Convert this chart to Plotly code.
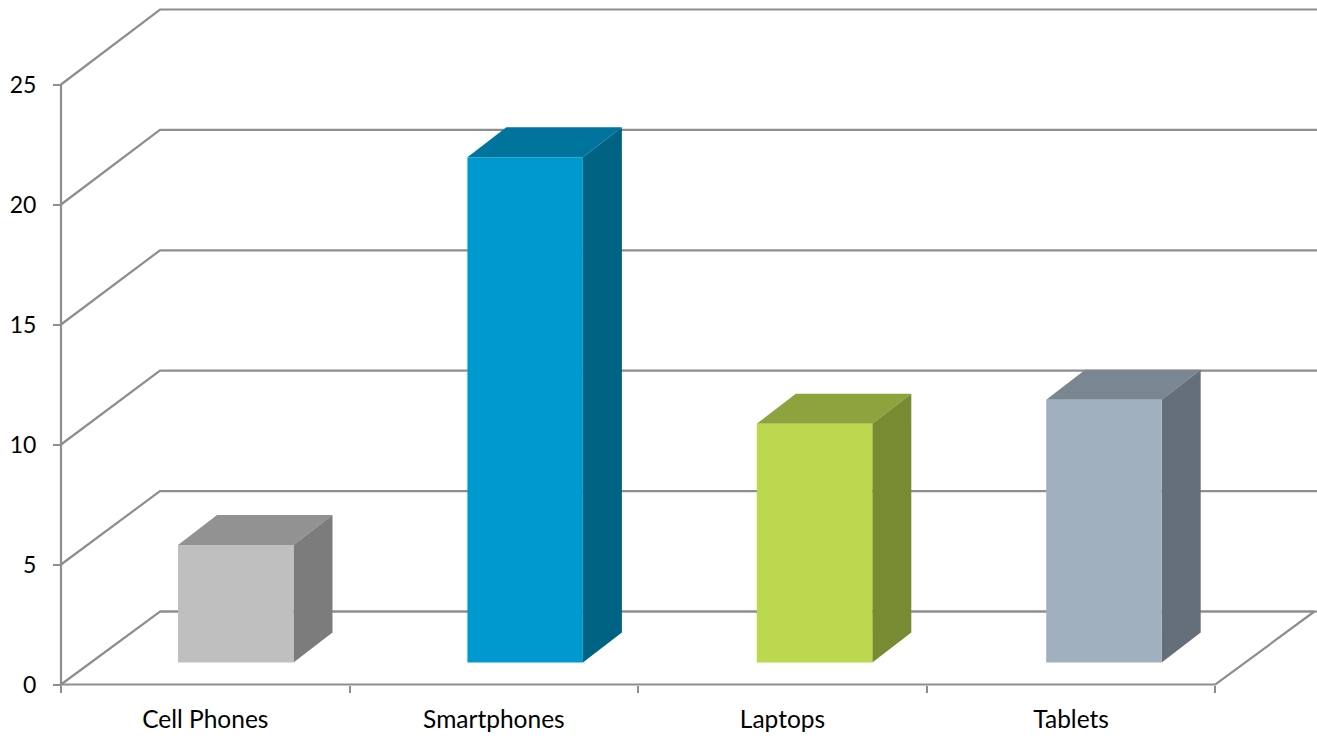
import plotly.graph_objects as go

categories = ["Cell Phones", "Smartphones", "Laptops", "Tablets"]
values = [4.9, 21.05, 9.95, 10.95]
front_colors = ["#BFBFBF", "#0099CF", "#BCD84F", "#A0B0BF"]
top_colors = ["#929292", "#00749C", "#8DA33D", "#7A8692"]
side_colors = ["#7C7C7C", "#006383", "#778B33", "#646F7A"]
y_ticks = [0, 5, 10, 15, 20, 25]

W, H = 1317, 742
X0_PX, Y0_PX = 61, 684.5
CAT_PX, VAL_PX = 288.6, 24.0
GRID = "#8E8E8E"
FONT_X = dict(family="Lato, Noto Sans, sans-serif", size=24.5, color="#000000")
FONT_Y = dict(family="Lato, Noto Sans, sans-serif", size=23, color="#000000")

wall_dx = 99 / CAT_PX
wall_dy_floor = 73 / VAL_PX
wall_stretch = 602 / 600
bar_start, bar_pitch, bar_width = 117 / CAT_PX, 289.4 / CAT_PX, 115.5 / CAT_PX
bar_base = 22 / VAL_PX
side_dx, side_dy = 39 / CAT_PX, 30 / VAL_PX
n = len(categories)

fig = go.Figure()


def grid(xs, ys):
    fig.add_trace(go.Scatter(x=xs, y=ys, mode="lines", hoverinfo="skip",
                             line=dict(color=GRID, width=2.2), showlegend=False))


def face(xs, ys, color, name=None):
    fig.add_trace(go.Scatter(
        x=xs, y=ys, mode="lines", fill="toself", fillcolor=color,
        line=dict(width=0), showlegend=False,
        hoverinfo="name" if name else "skip", name=name))


# walls and floor
for v in y_ticks:
    back = v * wall_stretch + wall_dy_floor
    grid([0, wall_dx, W / CAT_PX], [v, back, back])
grid([0, n, n + wall_dx, wall_dx], [0, 0, wall_dy_floor, wall_dy_floor])
grid([0, 0], [0, y_ticks[-1]])

# bars
for i, v in enumerate(values):
    left = bar_start + i * bar_pitch
    right = left + bar_width
    top = bar_base + v
    face([left, left + side_dx, right + side_dx, right, left],
         [top, top + side_dy, top + side_dy, top, top], top_colors[i])
    face([right, right + side_dx, right + side_dx, right, right],
         [bar_base, bar_base + side_dy, top + side_dy, top, bar_base], side_colors[i])
    face([left, right, right, left, left],
         [bar_base, bar_base, top, top, bar_base], front_colors[i], categories[i])

fig.update_layout(
    width=W, height=H, margin=dict(l=0, r=0, t=0, b=0, pad=0),
    paper_bgcolor="#FFFFFF", plot_bgcolor="#FFFFFF",
    showlegend=False,
    xaxis=dict(
        range=[-X0_PX / CAT_PX, (W - X0_PX) / CAT_PX], domain=[0, 1],
        anchor="free", position=(H - Y0_PX) / H,
        tickmode="array", tickvals=[i + 0.5 for i in range(n)], ticktext=categories,
        ticks="", ticklen=0, showgrid=False, zeroline=False, showline=False,
        tickfont=FONT_X, ticklabelstandoff=18,
        minor=dict(tickmode="array", tickvals=list(range(n + 1)), ticks="outside",
                   ticklen=7, tickwidth=2, tickcolor=GRID, showgrid=False),
    ),
    yaxis=dict(
        range=[-(H - Y0_PX) / VAL_PX, Y0_PX / VAL_PX], domain=[0, 1],
        anchor="free", position=X0_PX / W,
        tickmode="array", tickvals=y_ticks, ticks="outside", ticklen=8, tickwidth=2,
        tickcolor=GRID, showgrid=False, zeroline=False, showline=False,
        tickfont=FONT_Y, ticklabelstandoff=12,
    ),
)

fig.write_html("out.html", config={"displayModeBar": False},
               post_script="document.body.style.margin='0';document.body.style.overflow='hidden';")
